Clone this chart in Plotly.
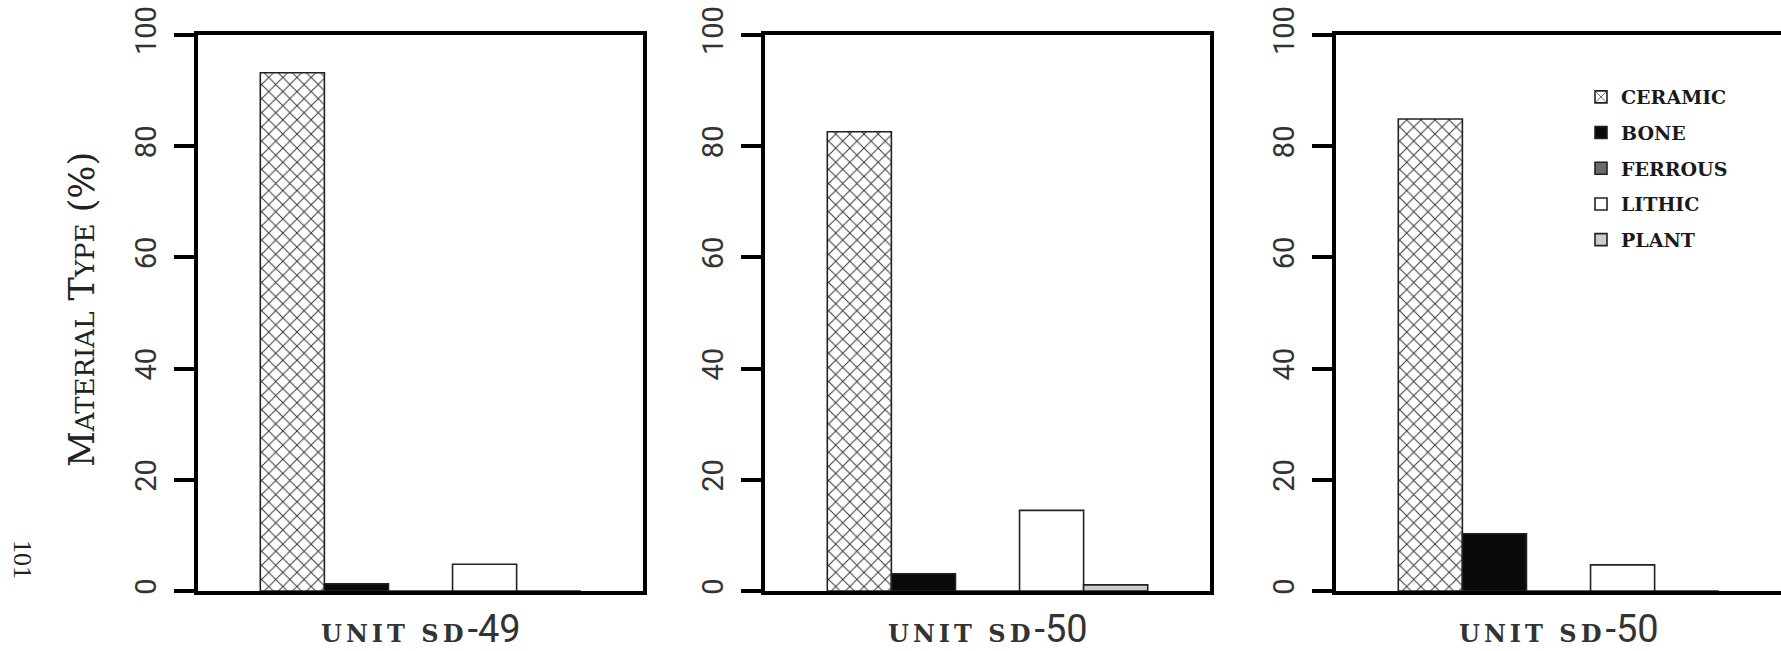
import plotly.graph_objects as go

# ---- data ----
unit_prefix = ["UNIT SD", "UNIT SD", "UNIT SD"]
unit_number = ["-49", "-50", "-50"]
materials = ["CERAMIC", "BONE", "FERROUS", "LITHIC", "PLANT"]
ceramic = [93.2, 82.6, 84.9]
bone = [1.3, 3.1, 10.3]
ferrous = [0.0, 0.0, 0.0]
lithic = [4.8, 14.5, 4.7]
plant = [0.0, 1.1, 0.0]
y_ticks = [0, 20, 40, 60, 80, 100]

series = [ceramic, bone, ferrous, lithic, plant]

W, H = 1781, 651

styles = {
    "CERAMIC": dict(color="white",
                    pattern=dict(shape="x", fgcolor="#333333", bgcolor="white",
                                 size=10, solidity=0.18, fillmode="replace")),
    "BONE": dict(color="#0a0a0a"),
    "FERROUS": dict(color="#6b6b6b"),
    "LITHIC": dict(color="white"),
    "PLANT": dict(color="#cccccc"),
}

# panel inner pixel extents (x) and shared y
x_px = [(198, 643), (765, 1210), (1336, 1781)]
y_top_px, y_bot_px = 35, 591

fig = go.Figure()
for i in range(3):
    ax = "" if i == 0 else str(i + 1)
    for m, vals in zip(materials, series):
        st = styles[m]
        marker = dict(color=st["color"], line=dict(color="#222222", width=1.6))
        if "pattern" in st:
            marker["pattern"] = st["pattern"]
        fig.add_trace(go.Bar(
            x=[0], y=[vals[i]], name=m,
            xaxis="x" + ax, yaxis="y" + ax,
            marker=marker, legendgroup=m, showlegend=(i == 2),
            hovertemplate=m + ": %{y}%<extra></extra>",
        ))

layout = dict(
    width=W, height=H,
    margin=dict(l=0, r=0, t=0, b=0, autoexpand=False),
    paper_bgcolor="white", plot_bgcolor="white",
    barmode="group", bargap=0.28, bargroupgap=0,
    showlegend=True,
    legend=dict(
        x=1581 / W, xanchor="left", y=1 - 78 / H, yanchor="top",
        font=dict(family="DejaVu Serif", size=19, color="#1a1a1a", weight="bold"),
        bgcolor="rgba(0,0,0,0)", borderwidth=0,
        tracegroupgap=8, traceorder="grouped",
    ),
)

ydom = [1 - y_bot_px / H, 1 - y_top_px / H]
for i in range(3):
    ax = "" if i == 0 else str(i + 1)
    x0, x1 = x_px[i]
    layout["xaxis" + ax] = dict(
        domain=[x0 / W, x1 / W], range=[-0.5, 0.5], anchor="y" + ax,
        showline=True, linewidth=4, linecolor="black", mirror=True,
        showticklabels=False, ticks="", showgrid=False, zeroline=False,
        fixedrange=True, automargin=False,
    )
    layout["yaxis" + ax] = dict(
        domain=ydom, range=[0, 100], anchor="x" + ax,
        tickmode="array", tickvals=y_ticks, ticktext=[str(t) for t in y_ticks],
        ticks="outside", ticklen=20, tickwidth=4, tickcolor="black",
        tickangle=-90, ticklabelstandoff=6,
        tickfont=dict(family="Liberation Sans Narrow, Roboto, sans-serif", size=29, color="#333"),
        showline=True, linewidth=4, linecolor="black", mirror=True,
        showgrid=False, zeroline=False, fixedrange=True, automargin=False,
    )

annotations = []
# y-axis title (small caps)
annotations.append(dict(
    text="M<span style='font-size:26px'>ATERIAL</span> T<span style='font-size:26px'>YPE</span> (%)",
    x=82 / W, y=1 - 310 / H, xref="paper", yref="paper",
    xanchor="center", yanchor="middle", textangle=-90, showarrow=False,
    font=dict(family="DejaVu Serif", size=35, color="#222"),
))
# x labels for each panel
for i in range(3):
    x0 = x_px[i][0]
    cx = x0 + 445 / 2
    annotations.append(dict(
        text=("<span style='font-family:DejaVu Serif; font-size:24px; font-weight:bold; letter-spacing:4px'>"
              + unit_prefix[i] + "</span>" + unit_number[i]),
        x=cx / W, y=1 - 629 / H, xref="paper", yref="paper",
        xanchor="center", yanchor="middle", showarrow=False,
        font=dict(family="Liberation Sans Narrow, Roboto, sans-serif", size=38, color="#333"),
    ))
# page number
annotations.append(dict(
    text="101", x=23 / W, y=1 - 559 / H, xref="paper", yref="paper",
    xanchor="center", yanchor="middle", textangle=90, showarrow=False,
    font=dict(family="Liberation Serif", size=26, color="#222"),
))
layout["annotations"] = annotations

fig.update_layout(**layout)
fig.write_html("out.html", config={"displayModeBar": False},
               post_script="document.body.style.margin='0px';document.body.style.overflow='hidden';")
